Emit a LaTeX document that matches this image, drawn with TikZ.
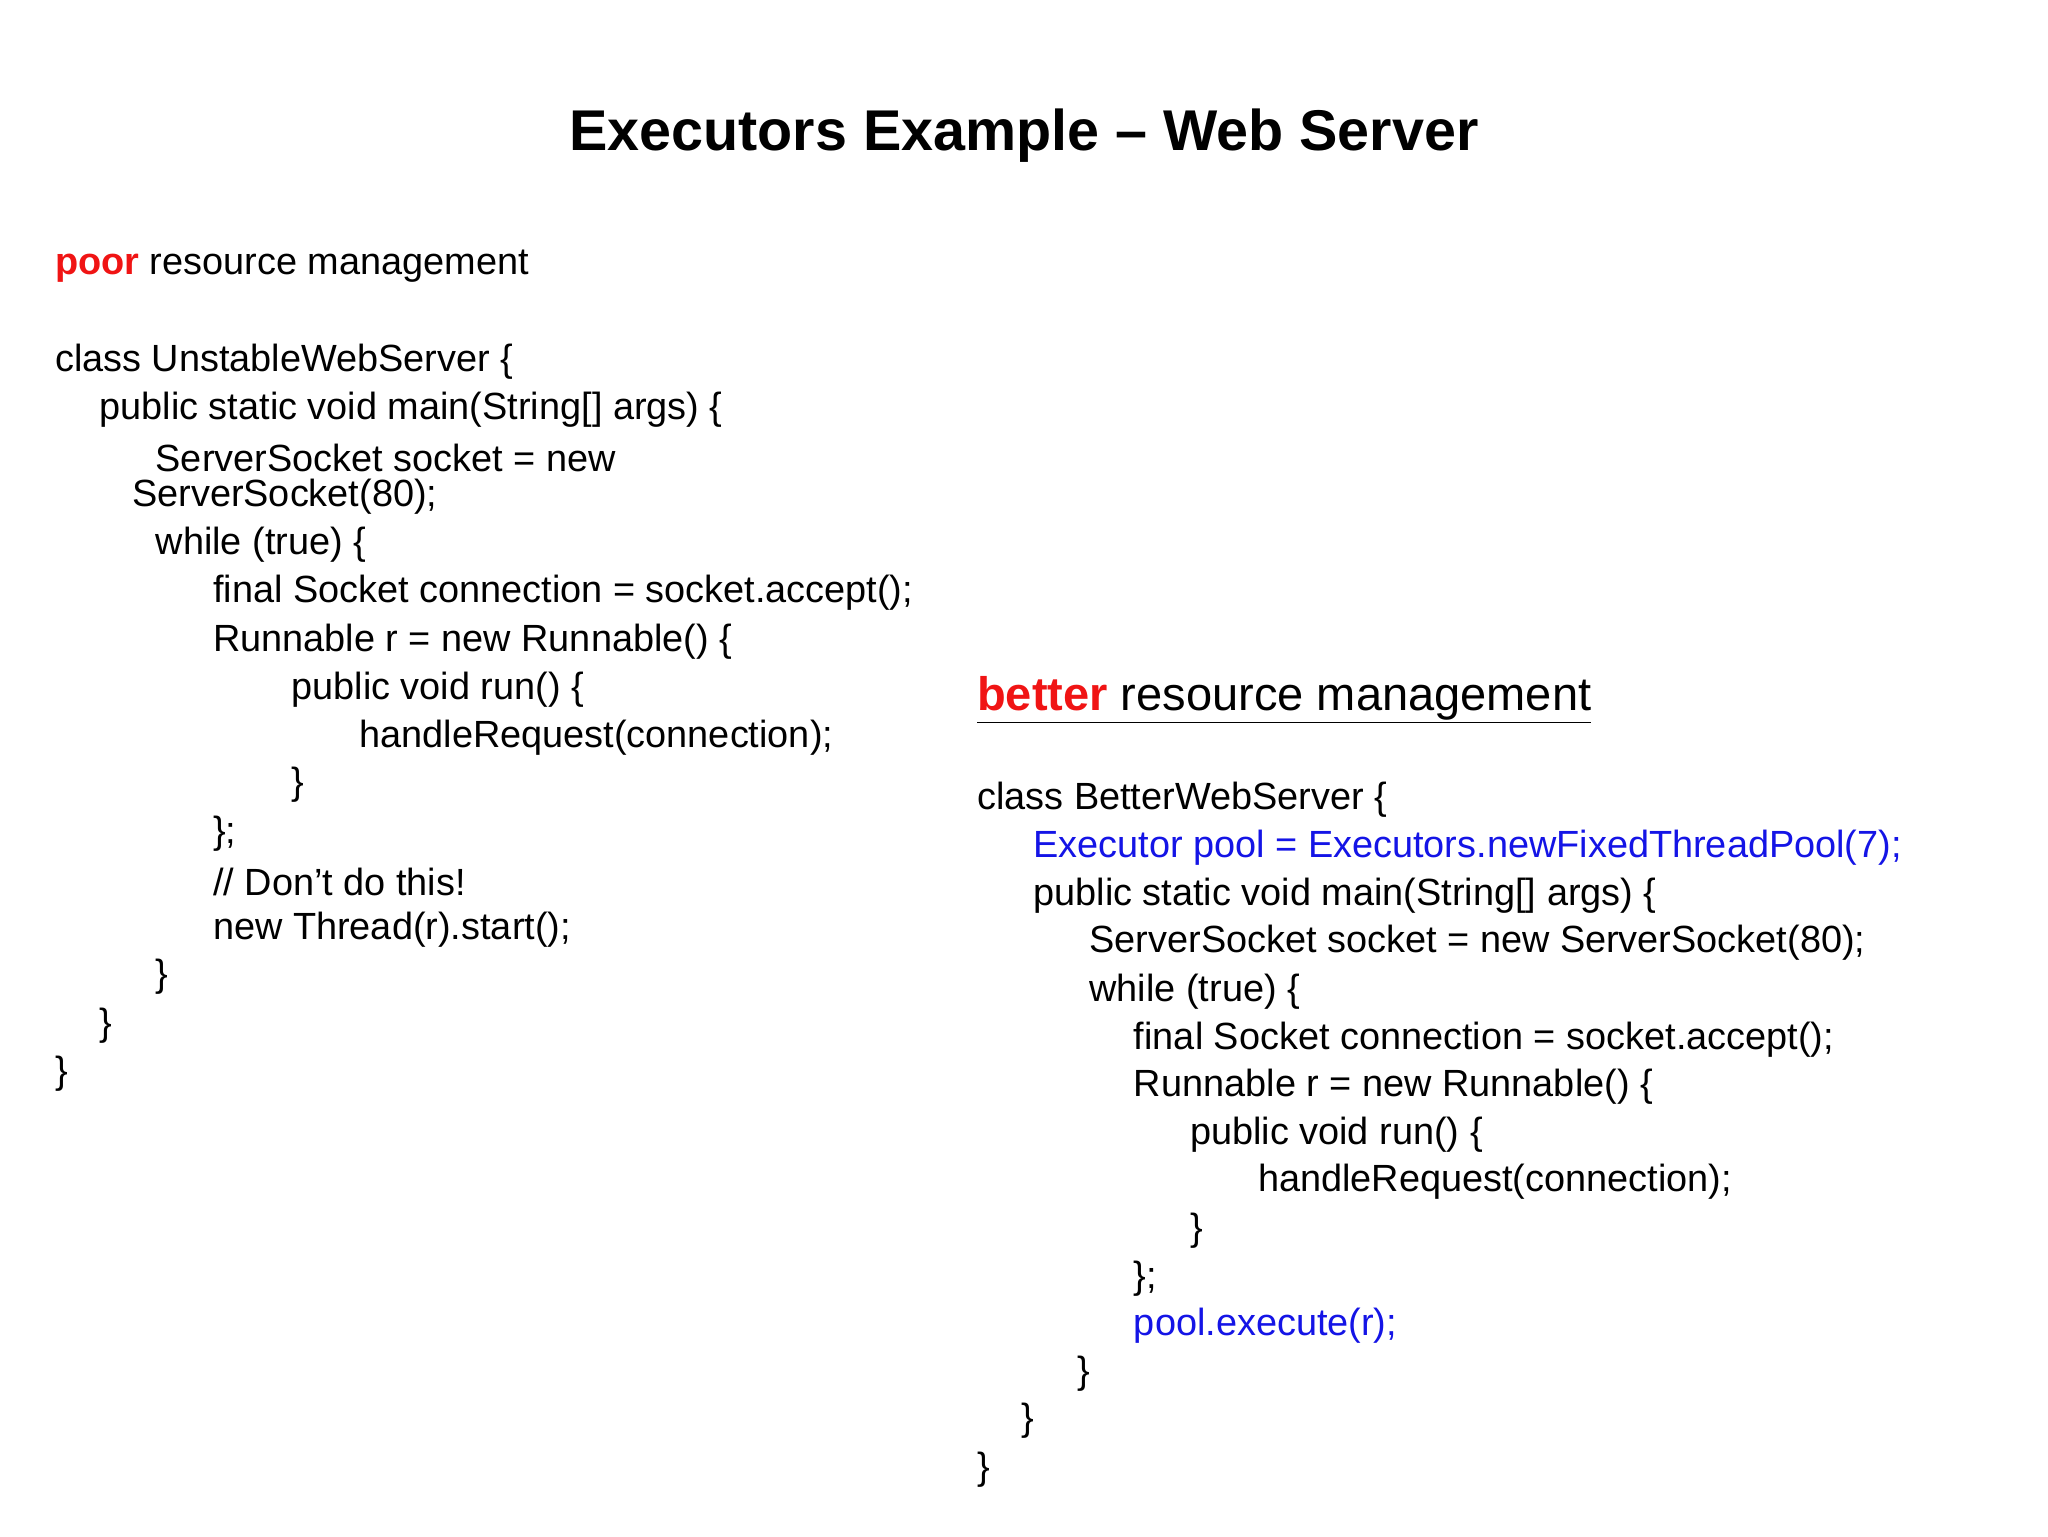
\documentclass[tikz,border=0pt]{standalone}
\usepackage{fontspec}
\setmainfont{Liberation Sans}
\definecolor{pred}{RGB}{240,20,20}
\definecolor{cblue}{RGB}{20,20,230}
\begin{document}
\begin{tikzpicture}[x=1pt,y=1pt,
  code/.style={anchor=west,inner sep=0pt,font=\fontsize{29}{32}\selectfont}]
\useasboundingbox (0,0) rectangle (1568,-1176);
\fill[white] (0,0) rectangle (1568,-1176);
\node[inner sep=0pt,font=\fontsize{44}{48}\selectfont\bfseries] (title) at (784,-104) {Executors Example -- Web Server};
\node[code] (lh) at (42,-204) {\textcolor{pred}{\bfseries poor} resource management};
\node[code] (l1) at (42,-277) {class UnstableWebServer \{};
\node[code] (l2) at (76,-314) {public static void main(String[] args) \{};
\node[code] (l3) at (119,-351) {ServerSocket socket = new};
\node[code] (l4) at (101,-380) {ServerSocket(80);};
\node[code] (l5) at (119,-417) {while (true) \{};
\node[code] (l6) at (163,-454) {final Socket connection = socket.accept();};
\node[code] (l7) at (163,-491) {Runnable r = new Runnable() \{};
\node[code] (l8) at (223,-528) {public void run() \{};
\node[code] (l9) at (275,-565) {handleRequest(connection);};
\node[code] (l10) at (223,-601) {\}};
\node[code] (l11) at (163,-638) {\};};
\node[code] (l12) at (163,-675) {// Don't do this!};
\node[code] (l13) at (163,-712) {new Thread(r).start();};
\node[code] (l14) at (119,-748) {\}};
\node[code] (l15) at (76,-785) {\}};
\node[code] (l16) at (42,-822) {\}};
\node[anchor=west,inner sep=0pt,font=\fontsize{36}{40}\selectfont] (rh) at (748,-536) {\underline{\textcolor{pred}{\bfseries better} resource management}};
\node[code] (r1) at (748,-612) {class BetterWebServer \{};
\node[code,text=cblue] (r2) at (791,-649) {Executor pool = Executors.newFixedThreadPool(7);};
\node[code] (r3) at (791,-686) {public static void main(String[] args) \{};
\node[code] (r4) at (834,-722) {ServerSocket socket = new ServerSocket(80);};
\node[code] (r5) at (834,-759) {while (true) \{};
\node[code] (r6) at (868,-796) {final Socket connection = socket.accept();};
\node[code] (r7) at (868,-832) {Runnable r = new Runnable() \{};
\node[code] (r8) at (911,-869) {public void run() \{};
\node[code] (r9) at (963,-905) {handleRequest(connection);};
\node[code] (r10) at (911,-942) {\}};
\node[code] (r11) at (868,-979) {\};};
\node[code,text=cblue] (r12) at (868,-1015) {pool.execute(r);};
\node[code] (r13) at (825,-1052) {\}};
\node[code] (r14) at (782,-1088) {\}};
\node[code] (r15) at (748,-1125) {\}};
\end{tikzpicture}
\end{document}
